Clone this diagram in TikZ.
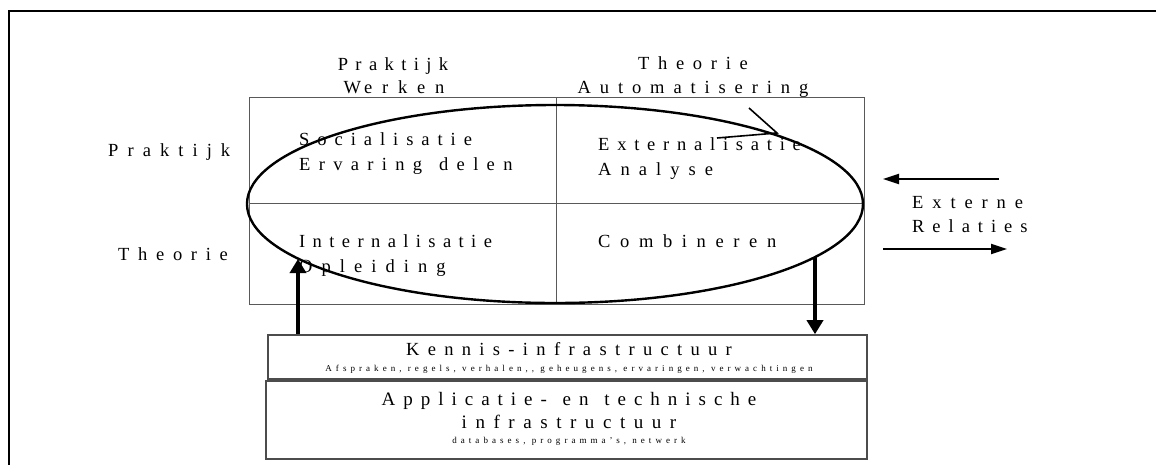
\documentclass[tikz,border=0pt]{standalone}
\usepackage{fontspec}
\setmainfont{Liberation Serif}
\usetikzlibrary{arrows.meta,shapes.geometric}

\begin{document}
\begin{tikzpicture}[x=1pt,y=-1pt,
  % widely tracked serif labels; the argument is the tracking
  tx/.style={inner sep=0pt, anchor=base west,
    font={\fontsize{18.5}{25}\selectfont\addfontfeature{LetterSpace=#1}}},
  tx/.default=45,
  hdr/.style={tx=#1, anchor=base},
  hdr/.default=45,
  small/.style={inner sep=0pt, anchor=base,
    font={\fontsize{9}{10}\selectfont\addfontfeature{LetterSpace=45}}},
  gridline/.style={draw=black!65, line width=1pt},
  boxline/.style={draw=black!70, line width=1.6pt},
  fatarrow/.style={line width=3.5pt, -{Triangle[length=14pt,width=16pt]}},
  sidearrow/.style={line width=2pt, -{Triangle[length=16pt,width=10pt]}}]
\useasboundingbox (0,0) rectangle (1156,464);

% outer frame (top and left edges)
\draw[line width=2.2pt] (9,466) -- (9,11) -- (1160,11);

% four-quadrant matrix
\draw[gridline] (249,97) rectangle (864,304);
\draw[gridline] (556,97) -- (556,304);
\draw[gridline] (249,203) -- (864,203);

% column and row headings
\node[hdr=40] (colA1) at (393,70) {Praktijk};
\node[hdr=53] (colA2) at (394,93) {W\hspace{3pt}erken};
\node[hdr=47] (colB1) at (693,69) {Theorie};
\node[hdr=48] (colB2) at (693,93) {Automatisering};
\node[tx=49] (rowA) at (108,156) {Praktijk};
\node[tx=47] (rowB) at (118,260) {Theorie};

% quadrant texts
\node[tx=43] (soc1) at (299,145) {Socialisatie};
\node[tx=45] (soc2) at (299,170) {Ervaring\hspace{4pt} delen};
\node[tx=42] (ext1) at (598,150) {Externalisatie};
\node[tx=49] (ext2) at (598,175) {Analyse};
\node[tx=40] (int1) at (299,247) {Internalisatie};
\node[tx=49] (int2) at (299,272) {Opleiding};
\node[tx=52] (comb) at (598,247) {Combineren};

% knowledge cycle
\node[ellipse, draw, line width=2.4pt, inner sep=0pt,
      minimum width=616pt, minimum height=198pt] (cycle) at (555,204) {};
\coordinate (cyctip) at (777,133);
\draw[line width=1.6pt, line join=miter] (717,138) -- (cyctip) -- (749,108);

% external relations
\coordinate (inS) at (999,179);
\coordinate (inE) at (883,179);
\coordinate (outS) at (883,249);
\coordinate (outE) at (1007,249);
\draw[sidearrow] (inS) -- (inE);
\draw[sidearrow] (outS) -- (outE);
\node[tx=48] (extr1) at (912,208) {Externe};
\node[tx=43] (extr2) at (912,232) {Relaties};

% infrastructure layers
\node[boxline, inner sep=0pt, minimum width=599pt, minimum height=44pt]
  (kennis) at (567.5,357) {};
\node[hdr] (kennisT) at (569,355) {Kennis-infrastructuur};
\node[small] (kennisS) at (569,371) {Afspraken, regels, verhalen,{}, geheugens, ervaringen, verwachtingen};

\node[boxline, inner sep=0pt, minimum width=601pt, minimum height=78pt]
  (appl) at (566.5,420) {};
\node[hdr, font={\fontsize{19}{23}\selectfont\addfontfeature{LetterSpace=42}}]
  (applT1) at (569,405) {Applicatie-\hspace{3pt} en\hspace{3pt} technische};
\node[hdr, font={\fontsize{19}{23}\selectfont\addfontfeature{LetterSpace=45}}]
  (applT2) at (569,428) {infrastructuur};
\node[small] (applS) at (569,443) {databases, programma's, netwerk};

% flows between the cycle and the knowledge layer
\coordinate (upTip) at (298,259);
\coordinate (downStart) at (815,257);
\draw[fatarrow] (kennis.north -| upTip) -- (upTip);
\draw[fatarrow] (downStart) -- (kennis.north -| downStart);
\end{tikzpicture}
\end{document}
